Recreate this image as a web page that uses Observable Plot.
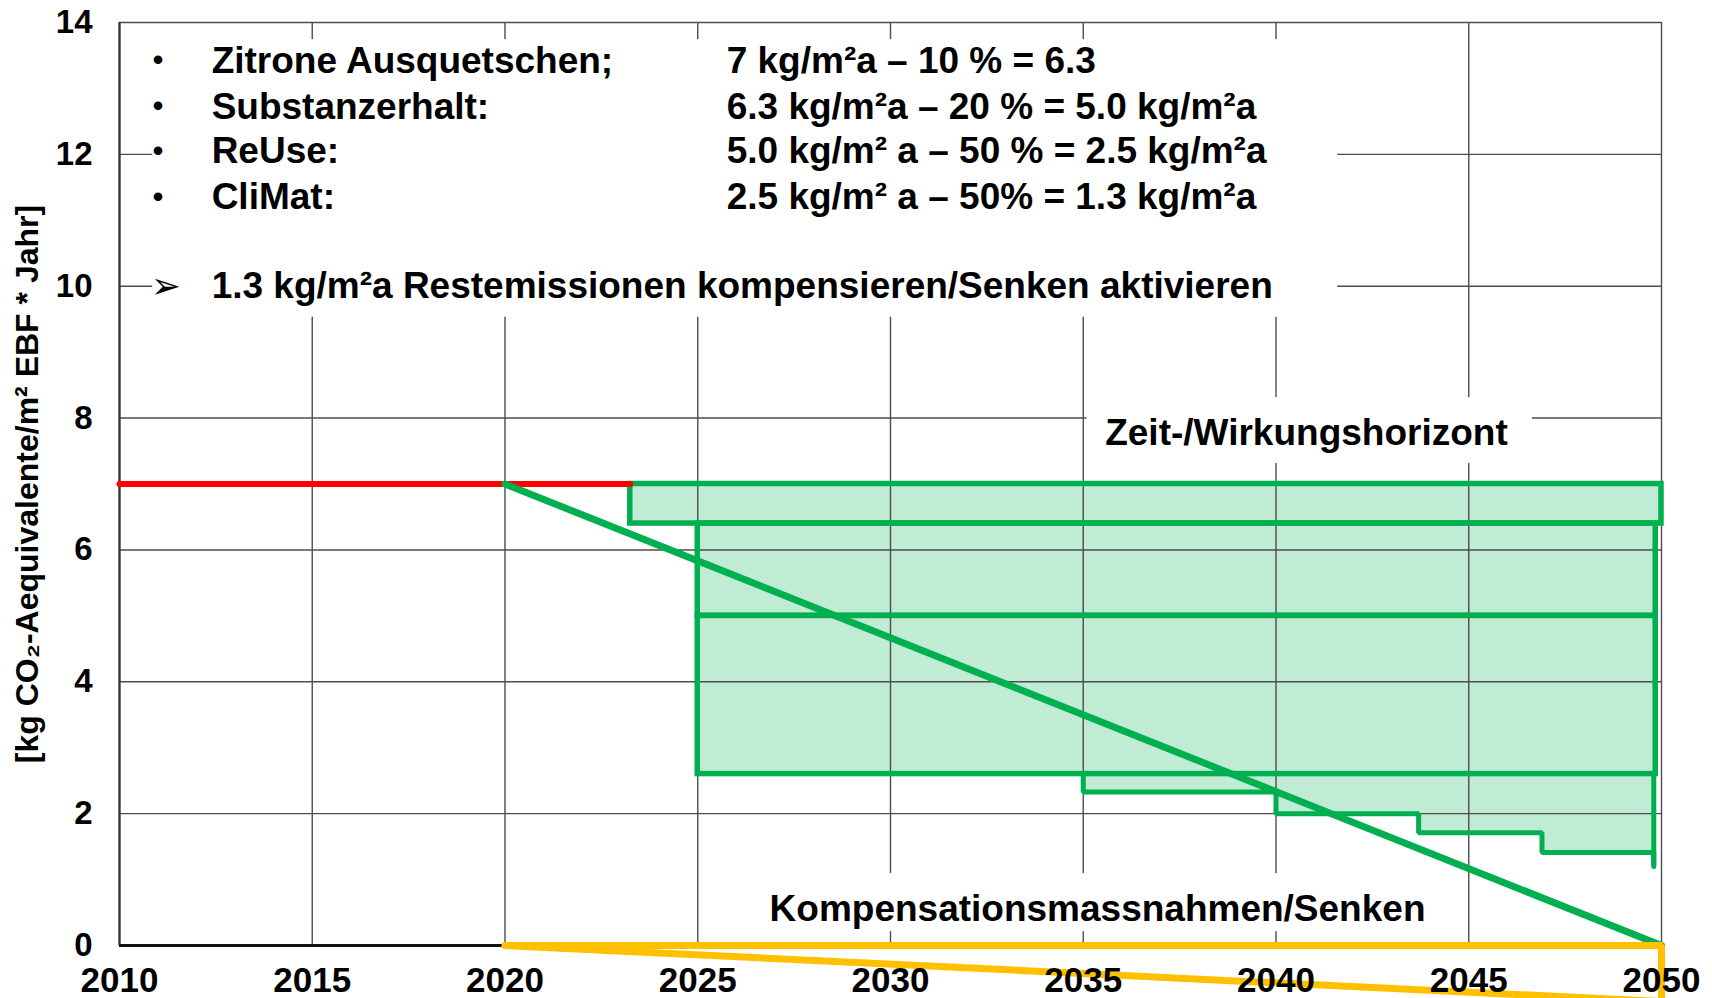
<!DOCTYPE html>
<html>
<head>
<meta charset="utf-8">
<script src="https://cdn.jsdelivr.net/npm/d3@7"></script>
<script src="https://cdn.jsdelivr.net/npm/@observablehq/plot@0.6"></script>
<style>
  html, body { margin: 0; padding: 0; background: #fff; }
  #chart { width: 1712px; height: 998px; overflow: hidden; }
</style>
</head>
<body>
<div id="chart"></div>
<script>
// ---- data ----
const xTicks = [2010, 2015, 2020, 2025, 2030, 2035, 2040, 2045, 2050];
const yTicks = [0, 2, 4, 6, 8, 10, 12, 14];
const yTitle = "[kg CO₂-Aequivalente/m² EBF * Jahr]";

// current emissions (red)
const baseYears = [2010, 2023.25];
const baseValues = [7, 7];

// reduction path (green diagonal)
const pathYears = [2020, 2050];
const pathValues = [7, 0];

// compensation / sinks (yellow outline)
const compYears = [2020, 2050, 2050, 2020];
const compValues = [0, 0, -0.85, 0];

// measure stages (green boxes)
const stageNames = ["Zitrone Ausquetschen", "Substanzerhalt", "ReUse"];
const stageStart = [2023.25, 2025, 2025];
const stageEnd = [2050, 2049.85, 2049.85];
const stageTop = [7.0, 6.4, 5.0];
const stageBottom = [6.4, 5.0, 2.6];

// CliMat staircase
const stepYears = [2035, 2035, 2040, 2043.7, 2046.9, 2049.8, 2049.8];
const stepValues = [2.6, 2.33, 2.0, 1.71, 1.41, 1.41, 1.2];

// text annotations
const measures = ["Zitrone Ausquetschen;", "Substanzerhalt:", "ReUse:", "CliMat:"];
const formulas = [
  "7 kg/m²a – 10 % = 6.3",
  "6.3 kg/m²a – 20 % = 5.0 kg/m²a",
  "5.0 kg/m² a – 50 % = 2.5 kg/m²a",
  "2.5 kg/m² a – 50% = 1.3 kg/m²a"
];
const measureRows = [13.42, 12.72, 12.05, 11.35];
const conclusion = "1.3 kg/m²a Restemissionen kompensieren/Senken aktivieren";
const conclusionRow = 10.0;
const horizonLabel = "Zeit-/Wirkungshorizont";
const sinkLabel = "Kompensationsmassnahmen/Senken";

// ---- derived tables ----
const stages = stageNames.map((n, i) => ({name: n, x1: stageStart[i], x2: stageEnd[i], y1: stageBottom[i], y2: stageTop[i]}));
const stairs = stepYears.map((x, i) => ({x, y: stepValues[i]}));
const base = baseYears.map((x, i) => ({x, y: baseValues[i]}));
const path = pathYears.map((x, i) => ({x, y: pathValues[i]}));
const comp = compYears.map((x, i) => ({x, y: compValues[i]}));
const rows = measures.map((m, i) => ({m, f: formulas[i], y: measureRows[i]}));

// label backgrounds (white boxes behind text, data coords)
const labelBoxes = [
  {x1: 2010.86, x2: 2041.6, y1: 9.53, y2: 13.74},
  {x1: 2035.1, x2: 2046.65, y1: 7.31, y2: 8.31},
  {x1: 2026.3, x2: 2044.2, y1: 0.21, y2: 1.09}
];

const GREEN = "#00b050";
const LIGHT = "#c0ebd5";
const FONT = "'Liberation Sans', Arial, Helvetica, sans-serif";

const chart = Plot.plot({
  width: 1712,
  height: 998,
  marginLeft: 119,
  marginRight: 51,
  marginTop: 22,
  marginBottom: 53,
  style: {fontFamily: FONT, background: "#fff", overflow: "visible", color: "#000"},
  x: {domain: [2010, 2050], ticks: xTicks, tickFormat: d => String(d)},
  y: {domain: [0, 14], ticks: yTicks, tickFormat: d => String(d)},
  marks: [
    // fills
    Plot.rect(stages, {x1: "x1", x2: "x2", y1: "y1", y2: "y2", fill: LIGHT}),
    Plot.areaY(stairs, {x: "x", y1: stageBottom[2], y2: "y", curve: "step-after", fill: LIGHT}),
    // grid
    Plot.gridX(xTicks, {stroke: "#4d4d4d", strokeOpacity: 1, strokeWidth: 1.4}),
    Plot.gridY(yTicks, {stroke: "#4d4d4d", strokeOpacity: 1, strokeWidth: 1.4}),
    // label backgrounds
    Plot.rect(labelBoxes, {x1: "x1", x2: "x2", y1: "y1", y2: "y2", fill: "#fff"}),
    // frame
    Plot.ruleX([2010], {stroke: "#333", strokeWidth: 2.2}),
    Plot.ruleY([0], {stroke: "#111", strokeWidth: 3}),
    // outlines
    Plot.rect(stages, {x1: "x1", x2: "x2", y1: "y1", y2: "y2", fill: "none", stroke: GREEN, strokeWidth: 5.5}),
    Plot.line(stairs, {x: "x", y: "y", curve: "step-after", stroke: GREEN, strokeWidth: 5, strokeLinejoin: "miter"}),
    Plot.ruleX([stepYears[stepYears.length - 1]], {y1: stepValues[stepValues.length - 1], y2: stageBottom[2], stroke: GREEN, strokeWidth: 5}),
    // lines
    Plot.line(base, {x: "x", y: "y", stroke: "#ff0000", strokeWidth: 6}),
    Plot.line(path, {x: "x", y: "y", stroke: GREEN, strokeWidth: 7}),
    Plot.line(comp, {x: "x", y: "y", stroke: "#ffc000", strokeWidth: 7, strokeLinejoin: "miter"}),
    // texts
    Plot.text(rows, {x: 2011.0, y: "y", text: () => "•", fontSize: 30, fontWeight: "bold", fill: "#000"}),
    Plot.text(rows, {x: 2012.39, y: "y", text: "m", textAnchor: "start", fontSize: 37, fontWeight: "bold", fill: "#000"}),
    Plot.text(rows, {x: 2025.75, y: "y", text: "f", textAnchor: "start", fontSize: 37, fontWeight: "bold", fill: "#000"}),
    Plot.text([conclusion], {x: 2011.2, y: conclusionRow, text: () => "➢", fontSize: 36, fontWeight: "bold", fontFamily: "'DejaVu Sans', sans-serif", fill: "#000"}),
    Plot.text([conclusion], {x: 2012.39, y: conclusionRow, text: d => d, textAnchor: "start", fontSize: 37, fontWeight: "bold", fill: "#000"}),
    Plot.text([horizonLabel], {x: 2040.79, y: 7.77, text: d => d, fontSize: 37, fontWeight: "bold", fill: "#000"}),
    Plot.text([sinkLabel], {x: 2035.37, y: 0.55, text: d => d, fontSize: 37, fontWeight: "bold", fill: "#000"}),
    // axes
    Plot.axisX(xTicks, {tickSize: 0, tickPadding: 22, fontSize: 35, fontWeight: "bold", label: null, tickFormat: d => String(d)}),
    Plot.axisY(yTicks, {tickSize: 0, tickPadding: 27, fontSize: 33, fontWeight: "bold", label: null, tickFormat: d => String(d)}),
    Plot.text([yTitle], {frameAnchor: "left", textAnchor: "middle", lineAnchor: "middle", dx: -92, rotate: -90, text: d => d, fontSize: 32, fontWeight: "bold", fill: "#000"})
  ]
});
document.getElementById("chart").appendChild(chart);
</script>
</body>
</html>
